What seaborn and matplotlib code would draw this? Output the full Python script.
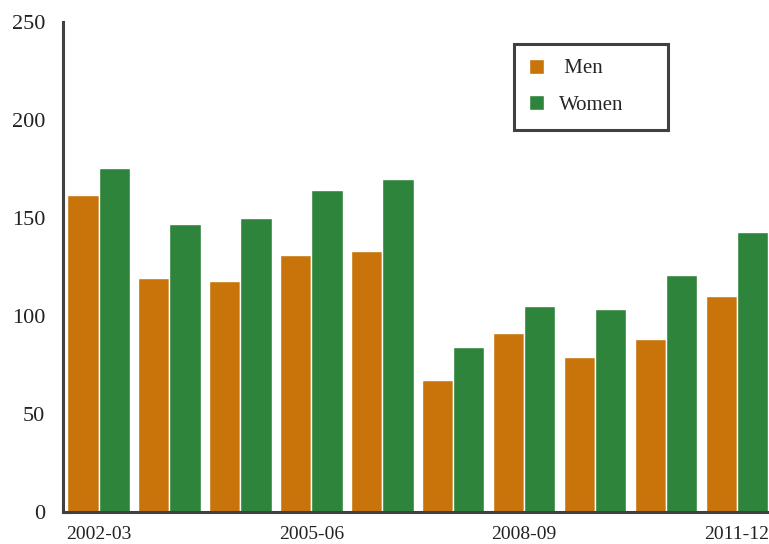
import matplotlib
matplotlib.use("Agg")
import matplotlib.pyplot as plt
import seaborn as sns
import pandas as pd

years = ["2002-03", "2003-04", "2004-05", "2005-06", "2006-07",
         "2007-08", "2008-09", "2009-10", "2010-11", "2011-12"]
men = [161.5, 119.5, 118, 131, 133, 67.5, 91, 79, 88, 110]
women = [175.5, 147, 150, 164, 170, 84, 105, 103.5, 121, 143]

df = pd.DataFrame({
    "Year": years * 2,
    "Value": men + women,
    "Sex": ["Men"] * len(years) + ["Women"] * len(years),
})

sns.set_style("white")
plt.rcParams["font.family"] = ["Liberation Serif", "DejaVu Serif"]

fig = plt.figure(figsize=(7.69, 5.44), dpi=100)
ax = fig.add_axes([0.082, 0.059, 0.918, 0.901])

sns.barplot(data=df, x="Year", y="Value", hue="Sex",
            palette={"Men": "#C8740A", "Women": "#2E843A"},
            saturation=1, width=0.88, gap=0, ax=ax)

ax.set_xlim(-0.5, 9.45)
ax.set_ylim(0, 250)
ax.set_yticks([0, 50, 100, 150, 200, 250])
ax.set_xticks([0, 3, 6, 9])
ax.set_xticklabels([years[i] for i in [0, 3, 6, 9]])
ax.tick_params(axis="y", length=0, labelsize=16, colors="#222222", pad=13)
ax.tick_params(axis="x", length=0, labelsize=14, colors="#222222", pad=10)
ax.set_xlabel("")
ax.set_ylabel("")

for s in ["top", "right"]:
    ax.spines[s].set_visible(False)
for s in ["left", "bottom"]:
    ax.spines[s].set_color("#404040")
    ax.spines[s].set_linewidth(2.2)

leg_w = 154 / 769
leg_h = 83 / 544
leg = ax.legend(title=None, loc="upper left",
                bbox_to_anchor=(514 / 769, 1 - 44 / 544 - leg_h, leg_w, leg_h),
                bbox_transform=fig.transFigure, mode="expand", fontsize=15,
                frameon=True, fancybox=False, handlelength=0.75, handleheight=0.75,
                labelspacing=0.8, borderpad=0.7, borderaxespad=0,
                handletextpad=0.7)
leg.get_frame().set_edgecolor("#404040")
leg.get_frame().set_linewidth(2.2)
leg.get_frame().set_alpha(1)
leg.get_texts()[0].set_text(" Men")

fig.savefig("out.png", dpi=100)
